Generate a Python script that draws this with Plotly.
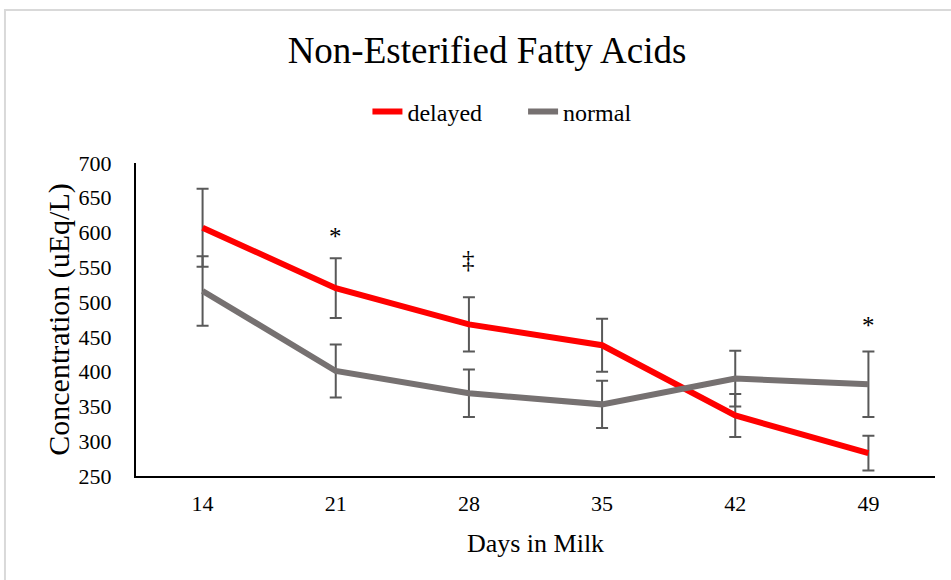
import plotly.graph_objects as go

days = ["14", "21", "28", "35", "42", "49"]
delayed = [607, 520, 468, 438, 337, 283]
delayed_err = [56, 43, 39, 38, 31, 25]
normal = [516, 401, 369, 353, 390, 382]
normal_err = [50, 38, 34, 34, 40, 47]

sig_days = ["21", "28", "49"]
sig_marks = ["*", "‡", "*"]
sig_y = [594, 561, 467]

FONT = "Liberation Serif"
ERRC = "#595959"
PAD = "\u00a0" * 6

fig = go.Figure()
fig.add_trace(go.Scatter(
    x=days, y=delayed, name="delayed" + PAD, mode="lines",
    line=dict(color="#ff0000", width=6),
    error_y=dict(type="data", array=delayed_err, visible=True, color=ERRC, thickness=2, width=6),
))
fig.add_trace(go.Scatter(
    x=days, y=normal, name="normal", mode="lines",
    line=dict(color="#767171", width=6),
    error_y=dict(type="data", array=normal_err, visible=True, color=ERRC, thickness=2, width=6),
))

for d, m, yv in zip(sig_days, sig_marks, sig_y):
    fig.add_annotation(x=days.index(d), y=yv, text=m, showarrow=False,
                       xref="x", yref="y", yanchor="middle",
                       font=dict(family=FONT, size=25, color="black"))

fig.add_shape(type="rect", xref="paper", yref="paper",
              x0=-0.164, x1=1.1, y0=-0.5, y1=1.489,
              line=dict(color="#d9d9d9", width=2), fillcolor="rgba(0,0,0,0)", layer="below")

fig.update_layout(
    width=951, height=580,
    margin=dict(l=136, r=16, t=163, b=104),
    paper_bgcolor="white", plot_bgcolor="white",
    font=dict(family=FONT, color="black", size=21),
    title=dict(text="Non-Esterified Fatty Acids", x=487 / 951, xref="container", xanchor="center",
               y=0.914, yanchor="middle",
               font=dict(family=FONT, size=37, color="black")),
    legend=dict(orientation="h", x=0.458, xanchor="center", xref="paper", y=1.163, yanchor="middle",
                font=dict(family=FONT, size=24, color="black"), itemwidth=30),
    showlegend=True,
)
fig.update_xaxes(type="category", range=[-0.5, 5.5], showline=True, linecolor="black", linewidth=2,
                 showgrid=False, ticks="", ticklabelstandoff=7,
                 title=dict(text="Days in Milk", font=dict(family=FONT, size=26), standoff=18),
                 tickfont=dict(family=FONT, size=22))
fig.update_yaxes(range=[250, 700], dtick=50, showline=True, linecolor="black", linewidth=2,
                 showgrid=False, ticks="", ticklabelstandoff=18, zeroline=False,
                 title=dict(text="Concentration (uEq/L)", font=dict(family=FONT, size=30), standoff=0),
                 tickfont=dict(family=FONT, size=22))

fig.write_html("out.html")
